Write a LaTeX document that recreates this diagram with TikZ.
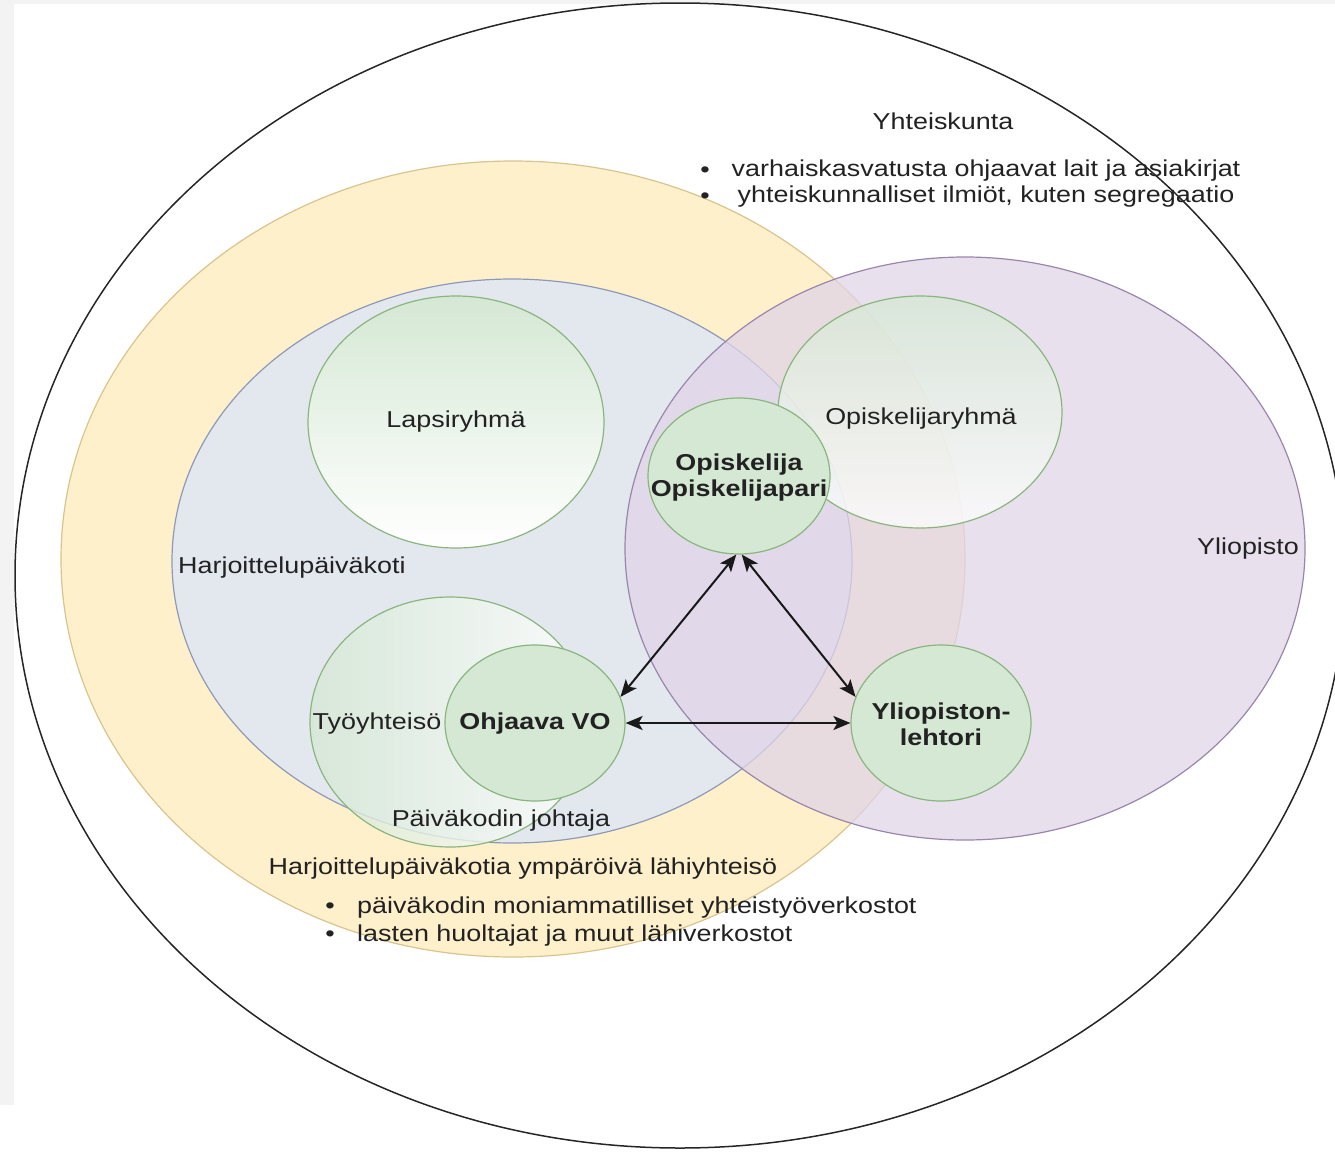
\documentclass[tikz,border=0pt]{standalone}
\usepackage{fontspec}
\setmainfont{Liberation Sans}[FakeStretch=1.17]
\usetikzlibrary{shapes.geometric,arrows.meta}
\definecolor{txt}{HTML}{222222}
\definecolor{ylw}{HTML}{FFF0CC}
\definecolor{ylwd}{HTML}{D9C48E}
\definecolor{blu}{HTML}{E3E8EF}
\definecolor{blud}{HTML}{8E9AB5}
\definecolor{prp}{HTML}{E1D5E7}
\definecolor{prpd}{HTML}{9A86AC}
\definecolor{grn}{HTML}{D5E8D4}
\definecolor{grnd}{HTML}{8AB57F}
\definecolor{bgg}{HTML}{F3F3F3}
\begin{document}
\begin{tikzpicture}[x=1pt,y=-1pt,
  every node/.style={font=\fontsize{23}{26}\selectfont, text=txt, inner sep=0pt},
  zone/.style={ellipse, inner sep=0pt, line width=1.2pt},
  grp/.style={ellipse, inner sep=0pt, line width=1.2pt, draw=grnd},
  actor/.style={ellipse, inner sep=0pt, line width=1.2pt, draw=grnd, fill=grn,
    minimum width=180pt, minimum height=156pt},
  bold/.style={font=\fontsize{23}{26}\selectfont\bfseries, align=center},
  lbl/.style={},
  biarrow/.style={line width=2pt, draw=black!90,
    {Stealth[length=17pt,width=14pt,inset=4pt]}-{Stealth[length=17pt,width=14pt,inset=4pt]}}
]
\useasboundingbox (0,0) rectangle (1335,1151);
\fill[bgg] (0,0) rectangle (1335,4);
\fill[bgg] (0,0) rectangle (14,1105);

% containers
\node[zone, fill=ylw, draw=ylwd, minimum width=904pt, minimum height=796pt] (lahi) at (513,559) {};
\node[zone, fill=blu, draw=blud, minimum width=680pt, minimum height=564pt] (pk) at (512,561) {};
\node[zone, fill=prp, fill opacity=0.75, draw=prpd, minimum width=680pt, minimum height=583pt] (yo) at (965,548.5) {};

% groups
\node[grp, top color=grn, bottom color=white, minimum width=296pt, minimum height=252pt] (lapsi) at (456,422) {Lapsiryhm\"a};
\node[grp, top color=grn, bottom color=white, fill opacity=0.75, minimum width=284pt, minimum height=232pt] (oryhma) at (920,412) {};
\node[lbl] (oryhmat) at (921,419) {Opiskelijaryhm\"a};
\node[grp, left color=grn, right color=white, fill opacity=0.8, minimum width=280pt, minimum height=250pt] (tyo) at (450,722) {};

% actors
\node[actor, minimum width=182pt] (opis) at (739,476) {};
\node[bold] (opist) at (739,478) {Opiskelija\\Opiskelijapari};
\node[actor] (ohj) at (535,723) {};
\node[bold] (ohjt) at (535,724) {Ohjaava VO};
\node[actor] (yl) at (941,723) {};
\node[bold] (ylt) at (941,724) {Yliopiston-\\lehtori};

% connectors
\draw[biarrow] (opis.268) -- (ohj.17);
\draw[biarrow] (opis.272) -- (yl.163);
\draw[biarrow] (ohj.east) -- (yl.west);

% labels
\node[lbl] (yht) at (943,121) {Yhteiskunta};
\node[lbl] (b1) at (705,172) {•};
\node[lbl] (l1) at (986,171) {varhaiskasvatusta ohjaavat lait ja asiakirjat};
\node[lbl] (b2) at (705,198) {•};
\node[lbl] (l2) at (986,197) {yhteiskunnalliset ilmi\"ot, kuten segregaatio};
\node[lbl, anchor=west] (pkt) at (178,568) {Harjoittelup\"aiv\"akoti};
\node[lbl] (yot) at (1248,549) {Yliopisto};
\node[lbl] (tyot) at (377,724) {Ty\"oyhteis\"o};
\node[lbl] (joht) at (501,821) {P\"aiv\"akodin johtaja};
\node[lbl] (lahit) at (523,869) {Harjoittelup\"aiv\"akotia ymp\"ar\"oiv\"a l\"ahiyhteis\"o};
\node[lbl] (b3) at (330,908) {•};
\node[lbl, anchor=west] (l3) at (357,908) {p\"aiv\"akodin moniammatilliset yhteisty\"overkostot};
\node[lbl] (b4) at (330,936) {•};
\node[lbl, anchor=west] (l4) at (357,936) {lasten huoltajat ja muut l\"ahiverkostot};

% society
\node[ellipse, draw=black!85, line width=1.5pt, inner sep=0pt, minimum width=1330pt, minimum height=1145pt] (soc) at (680,575.5) {};
\end{tikzpicture}
\end{document}
